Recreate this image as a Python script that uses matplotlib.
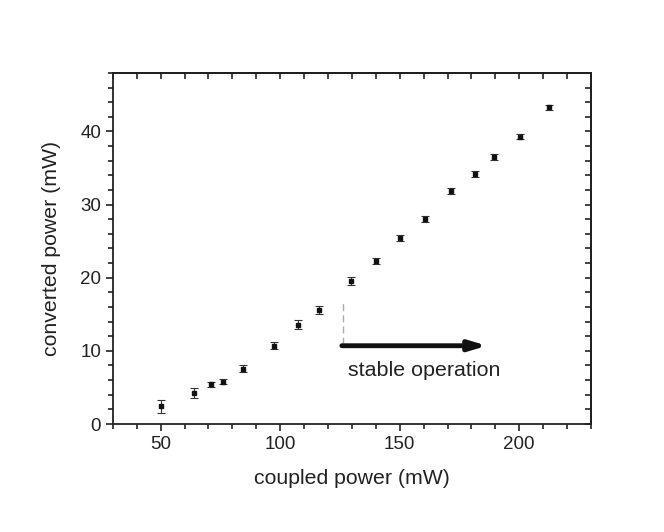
import numpy as np
import matplotlib
matplotlib.use('Agg')
from matplotlib import pyplot as plt
from matplotlib.ticker import MultipleLocator

plt.rcParams['font.family'] = ['Liberation Sans', 'DejaVu Sans']

# data
coupled = [50.0, 63.9, 71.0, 76.0, 84.6, 97.4, 107.6, 116.1,
           129.8, 140.1, 150.2, 160.6, 171.4, 181.3, 189.5, 200.4, 212.3]
converted = [2.4, 4.2, 5.45, 5.8, 7.55, 10.7, 13.55, 15.6,
             19.55, 22.3, 25.4, 28.05, 31.8, 34.2, 36.55, 39.3, 43.3]
err = [0.9, 0.7, 0.35, 0.35, 0.45, 0.5, 0.6, 0.55,
       0.5, 0.45, 0.4, 0.4, 0.4, 0.4, 0.4, 0.4, 0.35]

stable_x = 126.3
stable_end = 186.5
arrow_y = 10.7

fig = plt.figure(figsize=(6.64, 5.32), dpi=100)
ax = fig.add_axes([0.170, 0.203, 0.720, 0.660])

ax.errorbar(coupled, converted, yerr=err, fmt='s', color='#111111',
            markersize=3, ecolor='#333333', elinewidth=0.8, capsize=3, capthick=0.8)

# stable operation marker
ax.plot([stable_x, stable_x], [arrow_y + 0.3, 16.5], color='#aaaaaa',
        linestyle=(0, (5, 3)), lw=1)
ax.annotate('', xy=(stable_end, arrow_y), xytext=(stable_x - 0.5, arrow_y),
            arrowprops=dict(arrowstyle='-|>,head_length=1.0,head_width=0.3',
                            color='#111111', lw=3.5, shrinkA=0, shrinkB=0))
ax.text(128.4, 7.3, 'stable operation', fontsize=15.4, color='#222222',
        va='center', ha='left')

ax.set_xlim(30, 230)
ax.set_ylim(0, 48)
ax.xaxis.set_major_locator(MultipleLocator(50))
ax.xaxis.set_minor_locator(MultipleLocator(10))
ax.yaxis.set_major_locator(MultipleLocator(10))
ax.yaxis.set_minor_locator(MultipleLocator(2))
ax.set_xticks([50, 100, 150, 200])

ax.tick_params(which='both', direction='out', top=False, right=False,
               width=1.2, colors='#222222', labelsize=13.5)
ax.tick_params(which='major', length=5)
ax.tick_params(which='minor', length=3.5)

# inward ticks on the top and right
sec_x = ax.secondary_xaxis('top')
sec_x.xaxis.set_major_locator(MultipleLocator(10))
sec_x.tick_params(direction='in', length=4, width=1.2, labeltop=False, colors='#222222')
sec_y = ax.secondary_yaxis('right')
sec_y.yaxis.set_major_locator(MultipleLocator(2))
sec_y.tick_params(direction='in', length=4, width=1.2, labelright=False, colors='#222222')
for s in ax.spines.values():
    s.set_linewidth(1.3)
    s.set_color('#222222')
sec_x.spines['top'].set_linewidth(1.3)
sec_y.spines['right'].set_linewidth(1.3)

ax.set_xlabel('coupled power (mW)', fontsize=15.3, color='#222222', labelpad=12)
ax.set_ylabel('converted power (mW)', fontsize=15.3, color='#222222', labelpad=14)

fig.savefig('out.png', dpi=100)
